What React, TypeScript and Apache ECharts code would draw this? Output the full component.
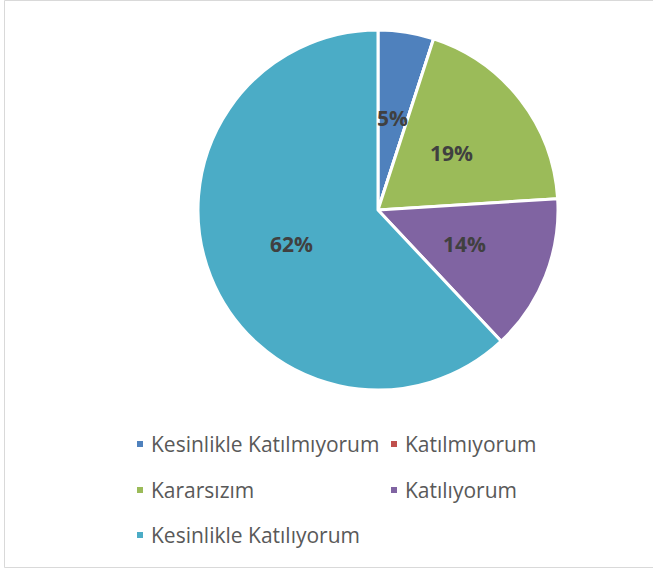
import React, { useEffect, useRef } from "react";
import * as echarts from "echarts";

const categories = [
  "Kesinlikle Katılmıyorum",
  "Katılmıyorum",
  "Kararsızım",
  "Katılıyorum",
  "Kesinlikle Katılıyorum",
];
const values = [5, 0, 19, 14, 62];
const colors = ["#4F81BD", "#C0504D", "#9BBB59", "#8064A2", "#4BACC6"];

const FONT = "'Open Sans', 'Noto Sans', sans-serif";

export default function App() {
  const ref = useRef<HTMLDivElement>(null);
  useEffect(() => {
    if (!ref.current) return;
    const chart = echarts.init(ref.current, null, { renderer: "svg" });
    const legendPos = [
      { left: 135, top: 432 },
      { left: 389, top: 432 },
      { left: 135, top: 478 },
      { left: 389, top: 478 },
      { left: 135, top: 523 },
    ];
    chart.setOption({
      animation: false,
      color: colors,
      graphic: [
        {
          type: "rect",
          shape: { x: 4.5, y: 0.5, width: 660, height: 567 },
          style: { fill: "none", stroke: "#D9D9D9", lineWidth: 1 },
          silent: true,
        },
      ],
      legend: categories.map((c, i) => ({
        data: [c],
        left: legendPos[i].left,
        top: legendPos[i].top,
        padding: 0,
        itemWidth: 8,
        itemHeight: 8,
        icon: "rect",
        selectedMode: false,
        textStyle: {
          fontFamily: FONT,
          fontSize: 21,
          color: "#595959",
          lineHeight: 24,
          padding: [0, 0, 0, 2],
        },
      })),
      series: [
        {
          type: "pie",
          center: [378, 210],
          radius: [0, 180],
          startAngle: 90,
          clockwise: true,
          avoidLabelOverlap: false,
          itemStyle: { borderColor: "#FFFFFF", borderWidth: 3 },
          label: {
            show: true,
            position: "inside",
            formatter: (p: any) => (p.value === 0 ? "" : p.value + "%"),
            fontFamily: FONT,
            fontSize: 21,
            fontWeight: "bold",
            color: "#404040",
          },
          labelLine: { show: false },
          emphasis: { disabled: true },
          data: categories.map((c, i) => ({ name: c, value: values[i] })),
        },
      ],
    });
    return () => chart.dispose();
  }, []);
  return (
    <div
      ref={ref}
      style={{ position: "fixed", left: 0, top: 0, width: 653, height: 572, background: "#fff" }}
    />
  );
}
